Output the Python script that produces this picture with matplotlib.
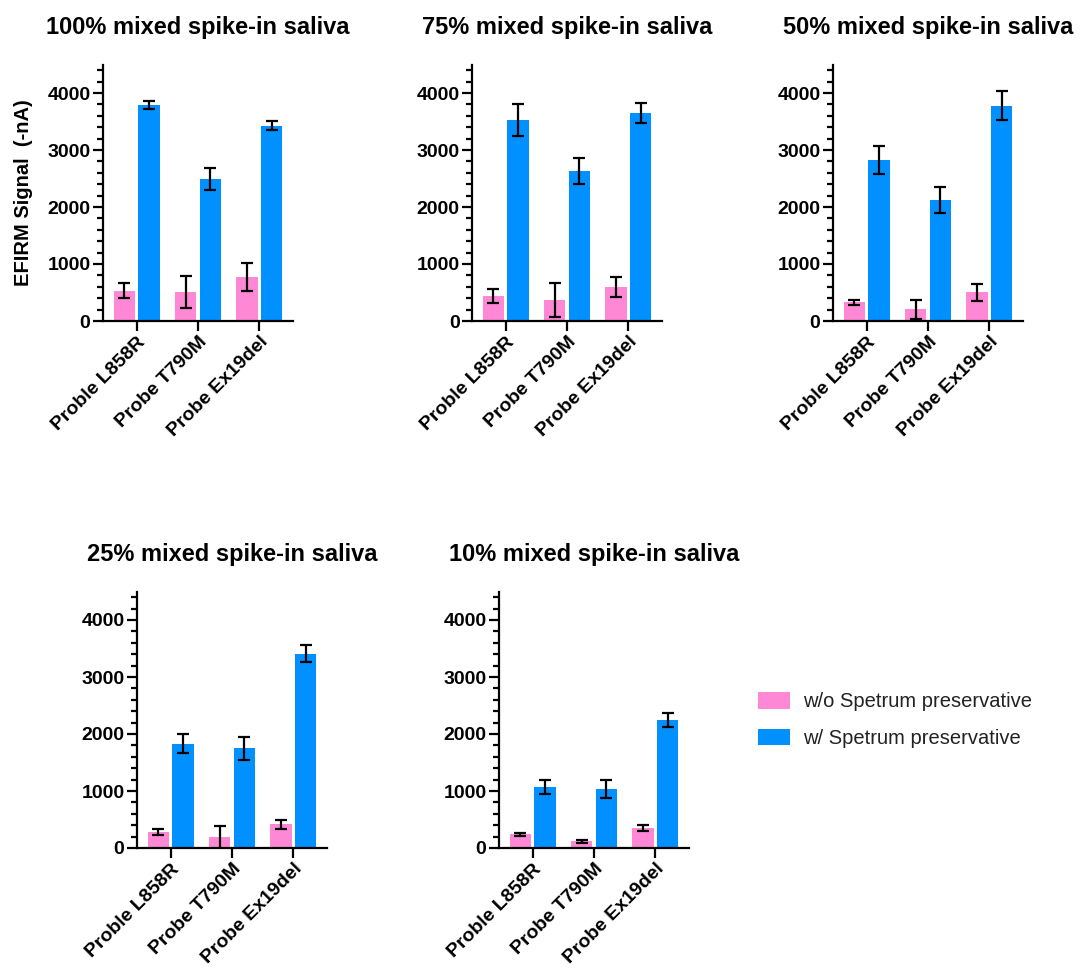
import numpy as np
import matplotlib
matplotlib.use("Agg")
import matplotlib.pyplot as plt
from matplotlib.patches import Patch
from matplotlib.ticker import MultipleLocator

plt.rcParams['font.family'] = ['Liberation Sans', 'DejaVu Sans']

probes = ["Proble L858R", "Probe T790M", "Probe Ex19del"]
titles = ["100% mixed spike-in saliva", "75% mixed spike-in saliva",
          "50% mixed spike-in saliva", "25% mixed spike-in saliva",
          "10% mixed spike-in saliva"]
series_names = ["w/o Spetrum preservative", "w/ Spetrum preservative"]

without_mean = [[528, 504, 774], [440, 364, 598], [328, 205, 504],
                [281, 187, 416], [240, 117, 351]]
without_err = [[130, 280, 240], [120, 300, 170], [40, 170, 145],
               [55, 200, 80], [25, 25, 45]]
with_mean = [[3789, 2493, 3425], [3531, 2633, 3648], [2821, 2123, 3777],
             [1827, 1751, 3408], [1072, 1031, 2243]]
with_err = [[70, 190, 80], [280, 230, 170], [250, 220, 255],
            [165, 205, 145], [120, 160, 120]]

pink = "#FF88D6"
blue = "#0090FF"

W, H = 1080, 969
fig = plt.figure(figsize=(W / 100, H / 100), dpi=100)

# (left px, y0 px) of each panel's axes
panel_px = [(103, 321), (472, 321), (833, 321), (137, 848), (499, 848)]
aw, ah = 190, 256.5

x = np.arange(len(probes))
for i, (lx, y0) in enumerate(panel_px):
    ax = fig.add_axes([lx / W, 1 - y0 / H, aw / W, ah / H])
    ax.bar(x - 0.2, without_mean[i], width=0.35, color=pink, edgecolor="none",
           zorder=2)
    ax.bar(x + 0.2, with_mean[i], width=0.35, color=blue, edgecolor="none",
           zorder=2)
    ax.errorbar(x - 0.2, without_mean[i], yerr=without_err[i], fmt="none",
                ecolor="black", elinewidth=1.6, capsize=4.5, capthick=1.6,
                zorder=3)
    ax.errorbar(x + 0.2, with_mean[i], yerr=with_err[i], fmt="none",
                ecolor="black", elinewidth=1.6, capsize=4.5, capthick=1.6,
                zorder=3)
    ax.set_xlim(-0.55, 2.55)
    ax.set_ylim(0, 4500)
    ax.yaxis.set_major_locator(MultipleLocator(1000))
    ax.yaxis.set_minor_locator(MultipleLocator(200))
    for s in ["top", "right"]:
        ax.spines[s].set_visible(False)
    for s in ["left", "bottom"]:
        ax.spines[s].set_linewidth(1.6)
    ax.tick_params(axis="y", which="major", length=7, width=1.6,
                   labelsize=14, pad=2)
    ax.tick_params(axis="y", which="minor", length=4, width=1.6)
    ax.tick_params(axis="x", which="major", length=7, width=1.6,
                   labelsize=14, pad=2)
    ax.set_xticks(x)
    ax.set_xticklabels(probes, rotation=45, ha="right", rotation_mode="anchor",
                       fontweight="bold")
    for lab in ax.get_yticklabels():
        lab.set_fontweight("bold")
    ax.set_title(titles[i], fontsize=17, fontweight="bold", pad=22)
    if i == 0:
        ax.set_ylabel("EFIRM Signal  (-nA)", fontsize=14.5, fontweight="bold",
                      labelpad=10)

handles = [Patch(facecolor=pink, edgecolor="none"),
           Patch(facecolor=blue, edgecolor="none")]
fig.legend(handles, series_names, loc="upper left",
           bbox_to_anchor=(740 / W, 1 - 674 / H), frameon=False,
           fontsize=14.5, handlelength=1.6, handleheight=0.9,
           handletextpad=0.65, labelspacing=0.85, labelcolor="#222222")

fig.savefig("out.png", dpi=100)
